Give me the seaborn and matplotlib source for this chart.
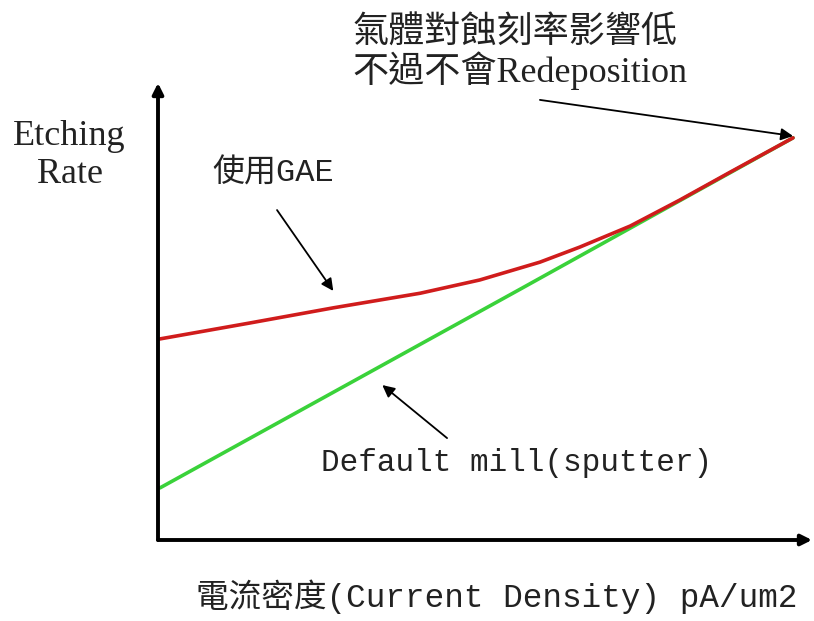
import seaborn as sns
import pandas as pd
import matplotlib.pyplot as plt

# curves (arbitrary units, axes run 0..100)
gae_x = [0.3, 14.1, 26.8, 40.1, 49.2, 58.4, 64.5, 72.2, 79.8, 87.5, 97.1]
gae_y = [44.0, 47.5, 50.8, 54.0, 56.9, 60.8, 64.1, 68.7, 74.4, 80.5, 88.0]
mill_x = [0.3, 55.4, 97.1]
mill_y = [11.4, 54.9, 88.0]

label_gae = '使用GAE'
label_mill = 'Default mill(sputter)'
label_redep = '氣體對蝕刻率影響低\n不過不會Redeposition'
x_title = '電流密度(Current Density) pA/um2'
y_title = 'Etching\nRate'

df = pd.concat([
    pd.DataFrame({'x': mill_x, 'y': mill_y, 'mode': 'mill'}),
    pd.DataFrame({'x': gae_x, 'y': gae_y, 'mode': 'GAE'}),
])

sns.set_theme(style='white')
mono = ['Liberation Mono', 'Noto Sans CJK TC']
serif = ['Liberation Serif', 'Noto Sans CJK TC']

fig = plt.figure(figsize=(8.14, 6.21), dpi=100)
ax = fig.add_axes([158/814, 81/621, 654/814, 457/621])
sns.lineplot(data=df, x='x', y='y', hue='mode', hue_order=['mill', 'GAE'],
             sort=False, ax=ax,
             palette={'GAE': '#d01c1c', 'mill': '#3ad23a'},
             linewidth=2.6, legend=False)
ax.set_xlim(0, 100)
ax.set_ylim(0, 100)
ax.set_xticks([])
ax.set_yticks([])
ax.set_xlabel('')
ax.set_ylabel('')
for s in ax.spines.values():
    s.set_visible(False)

# axis arrows
axis_arrow = dict(arrowstyle='-|>', lw=2.8, color='black', mutation_scale=16,
                  shrinkA=0, shrinkB=0)
ax.annotate('', xy=(0, 1), xytext=(0, 0), xycoords='axes fraction',
            arrowprops=axis_arrow)
ax.annotate('', xy=(1, 0), xytext=(0, 0), xycoords='axes fraction',
            arrowprops=axis_arrow)

thin = dict(arrowstyle='-|>', lw=1.3, color='black', mutation_scale=18,
            shrinkA=0, shrinkB=0)
ax.annotate('', xy=(26.8, 54.5), xytext=(18.2, 72.2), arrowprops=thin,
            annotation_clip=False)
ax.annotate('', xy=(34.3, 33.9), xytext=(44.2, 22.3), arrowprops=thin,
            annotation_clip=False)
ax.annotate('', xy=(97.1, 88.4), xytext=(58.4, 96.3), arrowprops=thin,
            annotation_clip=False)

ax.text(17.6, 80.3, label_gae, family=mono, fontsize=23, color='#222222',
        ha='center', va='center')
ax.text(54.9, 16.8, label_mill, family=mono, fontsize=22.3, color='#222222',
        ha='center', va='center')
ax.text(29.8, 106.5, label_redep, family=serif, fontsize=26, color='#222222',
        ha='left', va='center', linespacing=1.0)
ax.text(-13.5, 84.2, y_title, family=serif, fontsize=26, color='#222222',
        ha='center', va='center', linespacing=1.2)
ax.text(51.8, -12.5, x_title, family=mono, fontsize=23.5, color='#222222',
        ha='center', va='center')

fig.savefig('out.png', dpi=100)
